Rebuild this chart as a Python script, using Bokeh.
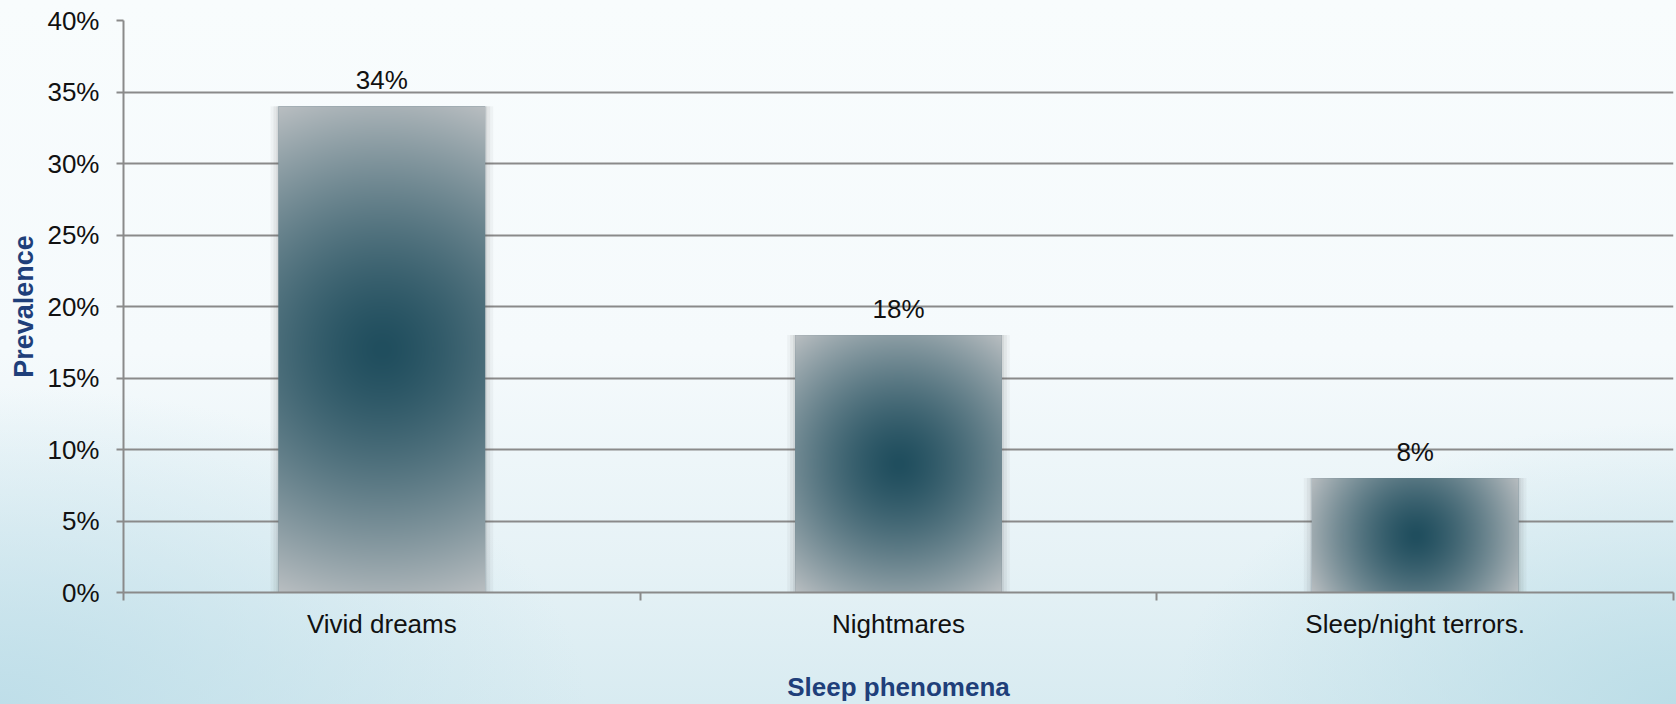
import numpy as np
from bokeh.plotting import figure
from bokeh.models import Range1d, FixedTicker, NumeralTickFormatter, ColumnDataSource
from bokeh.core.properties import value
from bokeh.embed import file_html
from bokeh.resources import INLINE

# Survey data
categories = ["Vivid dreams", "Nightmares", "Sleep/night terrors."]
prevalence = [0.34, 0.18, 0.08]
value_labels = ["34%", "18%", "8%"]
y_ticks = [0.0, 0.05, 0.10, 0.15, 0.20, 0.25, 0.30, 0.35, 0.40]
x_title = "Sleep phenomena"
y_title = "Prevalence"

FONT = "Liberation Sans"
TITLE_BLUE = "#1F3F7A"
GRID_GRAY = "#8A8A8A"

W, H = 1676, 704
LEFT, RIGHT, TOP, BOTTOM = 123, 3, 20, 112
FRAME_W = W - LEFT - RIGHT
FRAME_H = H - TOP - BOTTOM
Y_MAX = 0.40
BAR_W = 0.40

centers = [i + 0.5 for i in range(len(categories))]

p = figure(width=W, height=H, x_range=Range1d(0, len(categories)),
           y_range=Range1d(0, Y_MAX), output_backend="svg",
           toolbar_location=None, min_border_left=LEFT, min_border_right=RIGHT,
           min_border_top=TOP, min_border_bottom=BOTTOM)

# transparent canvas so the page gradient shows through
p.border_fill_color = None
p.background_fill_color = None
p.outline_line_color = None
p.styles = {
    "background": (
        "radial-gradient(ellipse 35% 45% at 0% 100%, rgba(188,221,232,0.9), rgba(188,221,232,0) 100%),"
        "radial-gradient(ellipse 30% 40% at 100% 100%, rgba(185,220,230,0.9), rgba(185,220,230,0) 100%),"
        "linear-gradient(to bottom, #F8FCFD 0%, #F5FAFC 50%, #E6F2F6 80%, #D8EBF1 100%)"
    )
}

# grid
p.xgrid.visible = False
p.ygrid.ticker = FixedTicker(ticks=y_ticks)
p.ygrid.grid_line_color = GRID_GRAY
p.ygrid.grid_line_width = 2

# y axis
yax = p.yaxis[0]
yax.ticker = FixedTicker(ticks=y_ticks)
yax.formatter = NumeralTickFormatter(format="0%")
yax.axis_line_color = GRID_GRAY
yax.axis_line_width = 2
yax.major_tick_line_color = GRID_GRAY
yax.major_tick_line_width = 2
yax.major_tick_out = 7
yax.major_tick_in = 0
yax.minor_tick_line_color = None
yax.major_label_text_font = FONT
yax.major_label_text_font_size = "26px"
yax.major_label_text_color = "#111111"
yax.major_label_standoff = 17
yax.axis_label = y_title
yax.axis_label_text_font = FONT
yax.axis_label_text_font_style = "bold"
yax.axis_label_text_font_size = "27px"
yax.axis_label_text_color = TITLE_BLUE
yax.axis_label_standoff = 5

# x axis: labels at category centres, ticks at category boundaries
xax = p.xaxis[0]
xax.ticker = FixedTicker(ticks=centers, minor_ticks=list(range(len(categories) + 1)))
xax.major_label_overrides = {c: name for c, name in zip(centers, categories)}
xax.axis_line_color = GRID_GRAY
xax.axis_line_width = 2
xax.major_tick_line_color = None
xax.major_tick_out = 0
xax.major_tick_in = 0
xax.minor_tick_line_color = GRID_GRAY
xax.minor_tick_line_width = 2
xax.minor_tick_out = 8
xax.minor_tick_in = 0
xax.major_label_text_font = FONT
xax.major_label_text_font_size = "26px"
xax.major_label_text_color = "#111111"
xax.major_label_standoff = 8
xax.axis_label = x_title
xax.axis_label_text_font = FONT
xax.axis_label_text_font_style = "bold"
xax.axis_label_text_font_size = "26px"
xax.axis_label_text_color = TITLE_BLUE
xax.axis_label_standoff = 30

src = ColumnDataSource(dict(x=centers, top=prevalence, label=value_labels))

# soft shadow around the bars
px_per_unit = FRAME_W / len(categories)
for grow, alpha in [(8, 0.05), (5, 0.07), (2, 0.10)]:
    p.vbar(x="x", top="top", bottom=0, width=BAR_W + 2 * grow / px_per_unit,
           source=src, fill_color="#555555", fill_alpha=alpha, line_color=None)

# base bars
p.vbar(x="x", top="top", bottom=0, width=BAR_W, source=src,
       fill_color="#5F7A86", line_color=None)

# radial shading on each bar (dark teal centre fading to grey corners)
dark = np.array([32, 78, 94], dtype=float)
light = np.array([186, 191, 194], dtype=float)
bw_px = int(round(BAR_W * px_per_unit))
for cx, v in zip(centers, prevalence):
    bh_px = max(2, int(round(v / Y_MAX * FRAME_H)))
    yy, xx = np.mgrid[0:bh_px, 0:bw_px].astype(float)
    dx = xx + 0.5 - bw_px / 2
    dy = yy + 0.5 - bh_px / 2
    r = np.sqrt(dx ** 2 + dy ** 2) / np.hypot(bw_px / 2, bh_px / 2)
    t = np.clip(r, 0, 1) ** 1.4
    rgb = dark[None, None, :] * (1 - t[..., None]) + light[None, None, :] * t[..., None]
    img = np.empty((bh_px, bw_px), dtype=np.uint32)
    view = img.view(dtype=np.uint8).reshape((bh_px, bw_px, 4))
    view[..., 0] = rgb[..., 0].astype(np.uint8)
    view[..., 1] = rgb[..., 1].astype(np.uint8)
    view[..., 2] = rgb[..., 2].astype(np.uint8)
    view[..., 3] = 255
    p.image_rgba(image=[img], x=cx - BAR_W / 2, y=0, dw=BAR_W, dh=v)

# value labels above the bars
p.text(x="x", y="top", text="label", source=src, y_offset=-26,
       text_align="center", text_baseline="alphabetic",
       text_font=value(FONT), text_font_size="26px", text_color="#111111")

open("out.html", "w").write(file_html(p, INLINE))
